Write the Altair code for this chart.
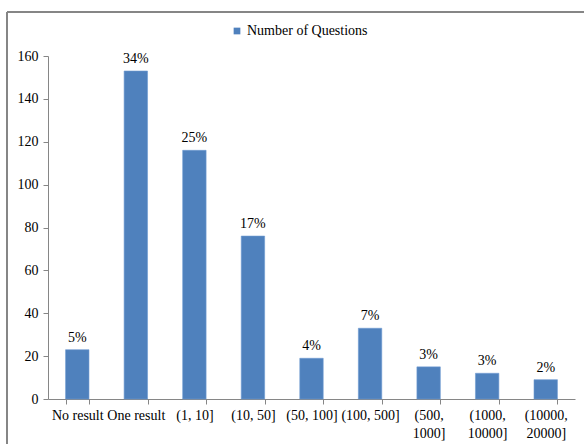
import altair as alt
import pandas as pd

# Result-count buckets (line breaks mark where the axis labels wrap)
buckets = [
    "No result", "One result", "(1, 10]", "(10, 50]", "(50, 100]",
    "(100, 500]", "(500,\n1000]", "(1000,\n10000]", "(10000,\n20000]",
]
questions = [23, 153, 116, 76, 19, 33, 15, 12, 9]
series_name = "Number of Questions"

df = pd.DataFrame({"bucket": buckets, "count": questions, "series": series_name})

FONT = "Liberation Serif"
FS = 14
BLUE = "#4F81BD"
AXIS_GREY = "#868686"

x_enc = alt.X(
    "bucket:N",
    sort=buckets,
    scale=alt.Scale(paddingInner=0.6, paddingOuter=0.3),
    axis=alt.Axis(
        title=None,
        labelAngle=0,
        labelExpr="isValid(datum.value) ? split(datum.value, '\\n') : ''",
        labelFont=FONT,
        labelFontSize=FS,
        labelColor="black",
        labelLineHeight=18,
        labelPadding=4,
        labelBaseline="top",
        tickBand="extent",
        tickSize=5,
        tickColor=AXIS_GREY,
        domainColor=AXIS_GREY,
        grid=False,
    ),
)

y_enc = alt.Y(
    "count:Q",
    scale=alt.Scale(domain=[0, 160], nice=False),
    axis=alt.Axis(
        title=None,
        values=[0, 20, 40, 60, 80, 100, 120, 140, 160],
        labelFont=FONT,
        labelFontSize=FS,
        labelColor="black",
        labelPadding=5,
        tickSize=5,
        tickColor=AXIS_GREY,
        domainColor=AXIS_GREY,
        grid=False,
    ),
)

base = alt.Chart(df).encode(x=x_enc, y=y_enc)

bars = base.mark_bar(stroke="#6f9bd1", strokeWidth=0.6).encode(
    color=alt.Color(
        "series:N",
        scale=alt.Scale(range=[BLUE]),
        legend=alt.Legend(
            title=None,
            orient="none",
            legendX=182,
            legendY=-32,
            symbolType="square",
            symbolSize=45,
            symbolStrokeWidth=0,
            labelFont=FONT,
            labelFontSize=FS,
            labelColor="black",
            labelOffset=3,
        ),
    )
)

labels = (
    base.transform_joinaggregate(total="sum(count)")
    .transform_calculate(share="datum.count / datum.total")
    .mark_text(font=FONT, fontSize=FS, color="black", baseline="bottom", dy=-5)
    .encode(text=alt.Text("share:Q", format=".0%"))
)

# Outer chart frame: top and left edges
frame_top = alt.Chart(df).mark_rule(color=AXIS_GREY, strokeWidth=1.2).encode(
    x=alt.value(-41), x2=alt.value(540), y=alt.value(-44)
)
frame_left = alt.Chart(df).mark_rule(color=AXIS_GREY, strokeWidth=1.2).encode(
    x=alt.value(-41), y=alt.value(-44), y2=alt.value(400)
)

chart = (
    alt.layer(bars, labels, frame_top, frame_left)
    .properties(
        width=527,
        height=343,
        autosize=alt.AutoSizeParams(type="none"),
        padding={"left": 48, "top": 56, "right": 9, "bottom": 45},
        background="white",
    )
    .configure_view(stroke=None)
)

chart.save("out.html", embed_options={"renderer": "svg", "actions": False})
